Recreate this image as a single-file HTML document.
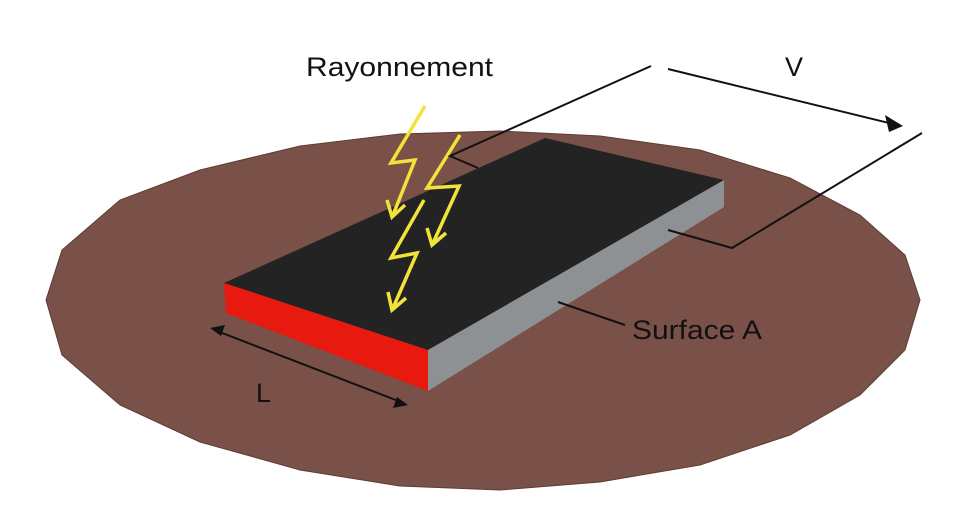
<!DOCTYPE html>
<html><head><meta charset="utf-8"><style>
html,body{margin:0;padding:0;background:#fff;width:955px;height:512px;overflow:hidden}
text{font-family:"Liberation Sans",sans-serif;fill:#111}
</style></head><body>
<svg width="955" height="512" viewBox="0 0 955 512" xmlns="http://www.w3.org/2000/svg">
<polygon fill="#7a5148" stroke="#5e3c34" stroke-width="1" points="46,300 62,250 120,200 200,170 300,146 400,134 500,131 600,136 700,150 790,178 860,215 905,255 920,300 905,350 860,395 790,435 700,465 600,482 500,490 400,486 300,470 200,442 120,405 62,355"/>
<polygon fill="#232323" points="224,283 545,138 724,180 428,350"/>
<polygon fill="#e8190f" points="224,283 428,350 428,391 226,313"/>
<polygon fill="#8e9193" points="428,350 724,180 724,207 428,391"/>
<g fill="none" stroke="#f2e33a" stroke-width="3.5" stroke-linejoin="miter">
<polyline points="425,106 391,163 415,160 393,215"/>
<polyline points="387,200 392,217 405,205"/>
<polyline points="460,135 427,188 459,186 433,243"/>
<polyline points="427,228 432,245 446,233"/>
<polyline points="424,200 391,258 417,253 393,308"/>
<polyline points="388,292 392,310 406,298"/>
</g>
<g fill="none" stroke="#111" stroke-width="2">
<polyline points="651,66 450,156 478,168"/>
<line x1="668" y1="69" x2="893" y2="124"/>
<polyline points="922,133 732,248 668,230"/>
<line x1="558" y1="302" x2="625" y2="325"/>
<line x1="217" y1="331" x2="401" y2="402"/>
</g>
<polygon fill="#111" points="903,126 885,115 889,132"/>
<polygon fill="#111" points="210,328 225,325 221,336"/>
<polygon fill="#111" points="408,405 393,408 397,397"/>
<text x="306" y="76" font-size="27" textLength="187" lengthAdjust="spacingAndGlyphs">Rayonnement</text>
<text x="785" y="76" font-size="27">V</text>
<text x="632" y="339" font-size="27" textLength="130" lengthAdjust="spacingAndGlyphs">Surface A</text>
<text x="256" y="402" font-size="27">L</text>
</svg>
</body></html>
